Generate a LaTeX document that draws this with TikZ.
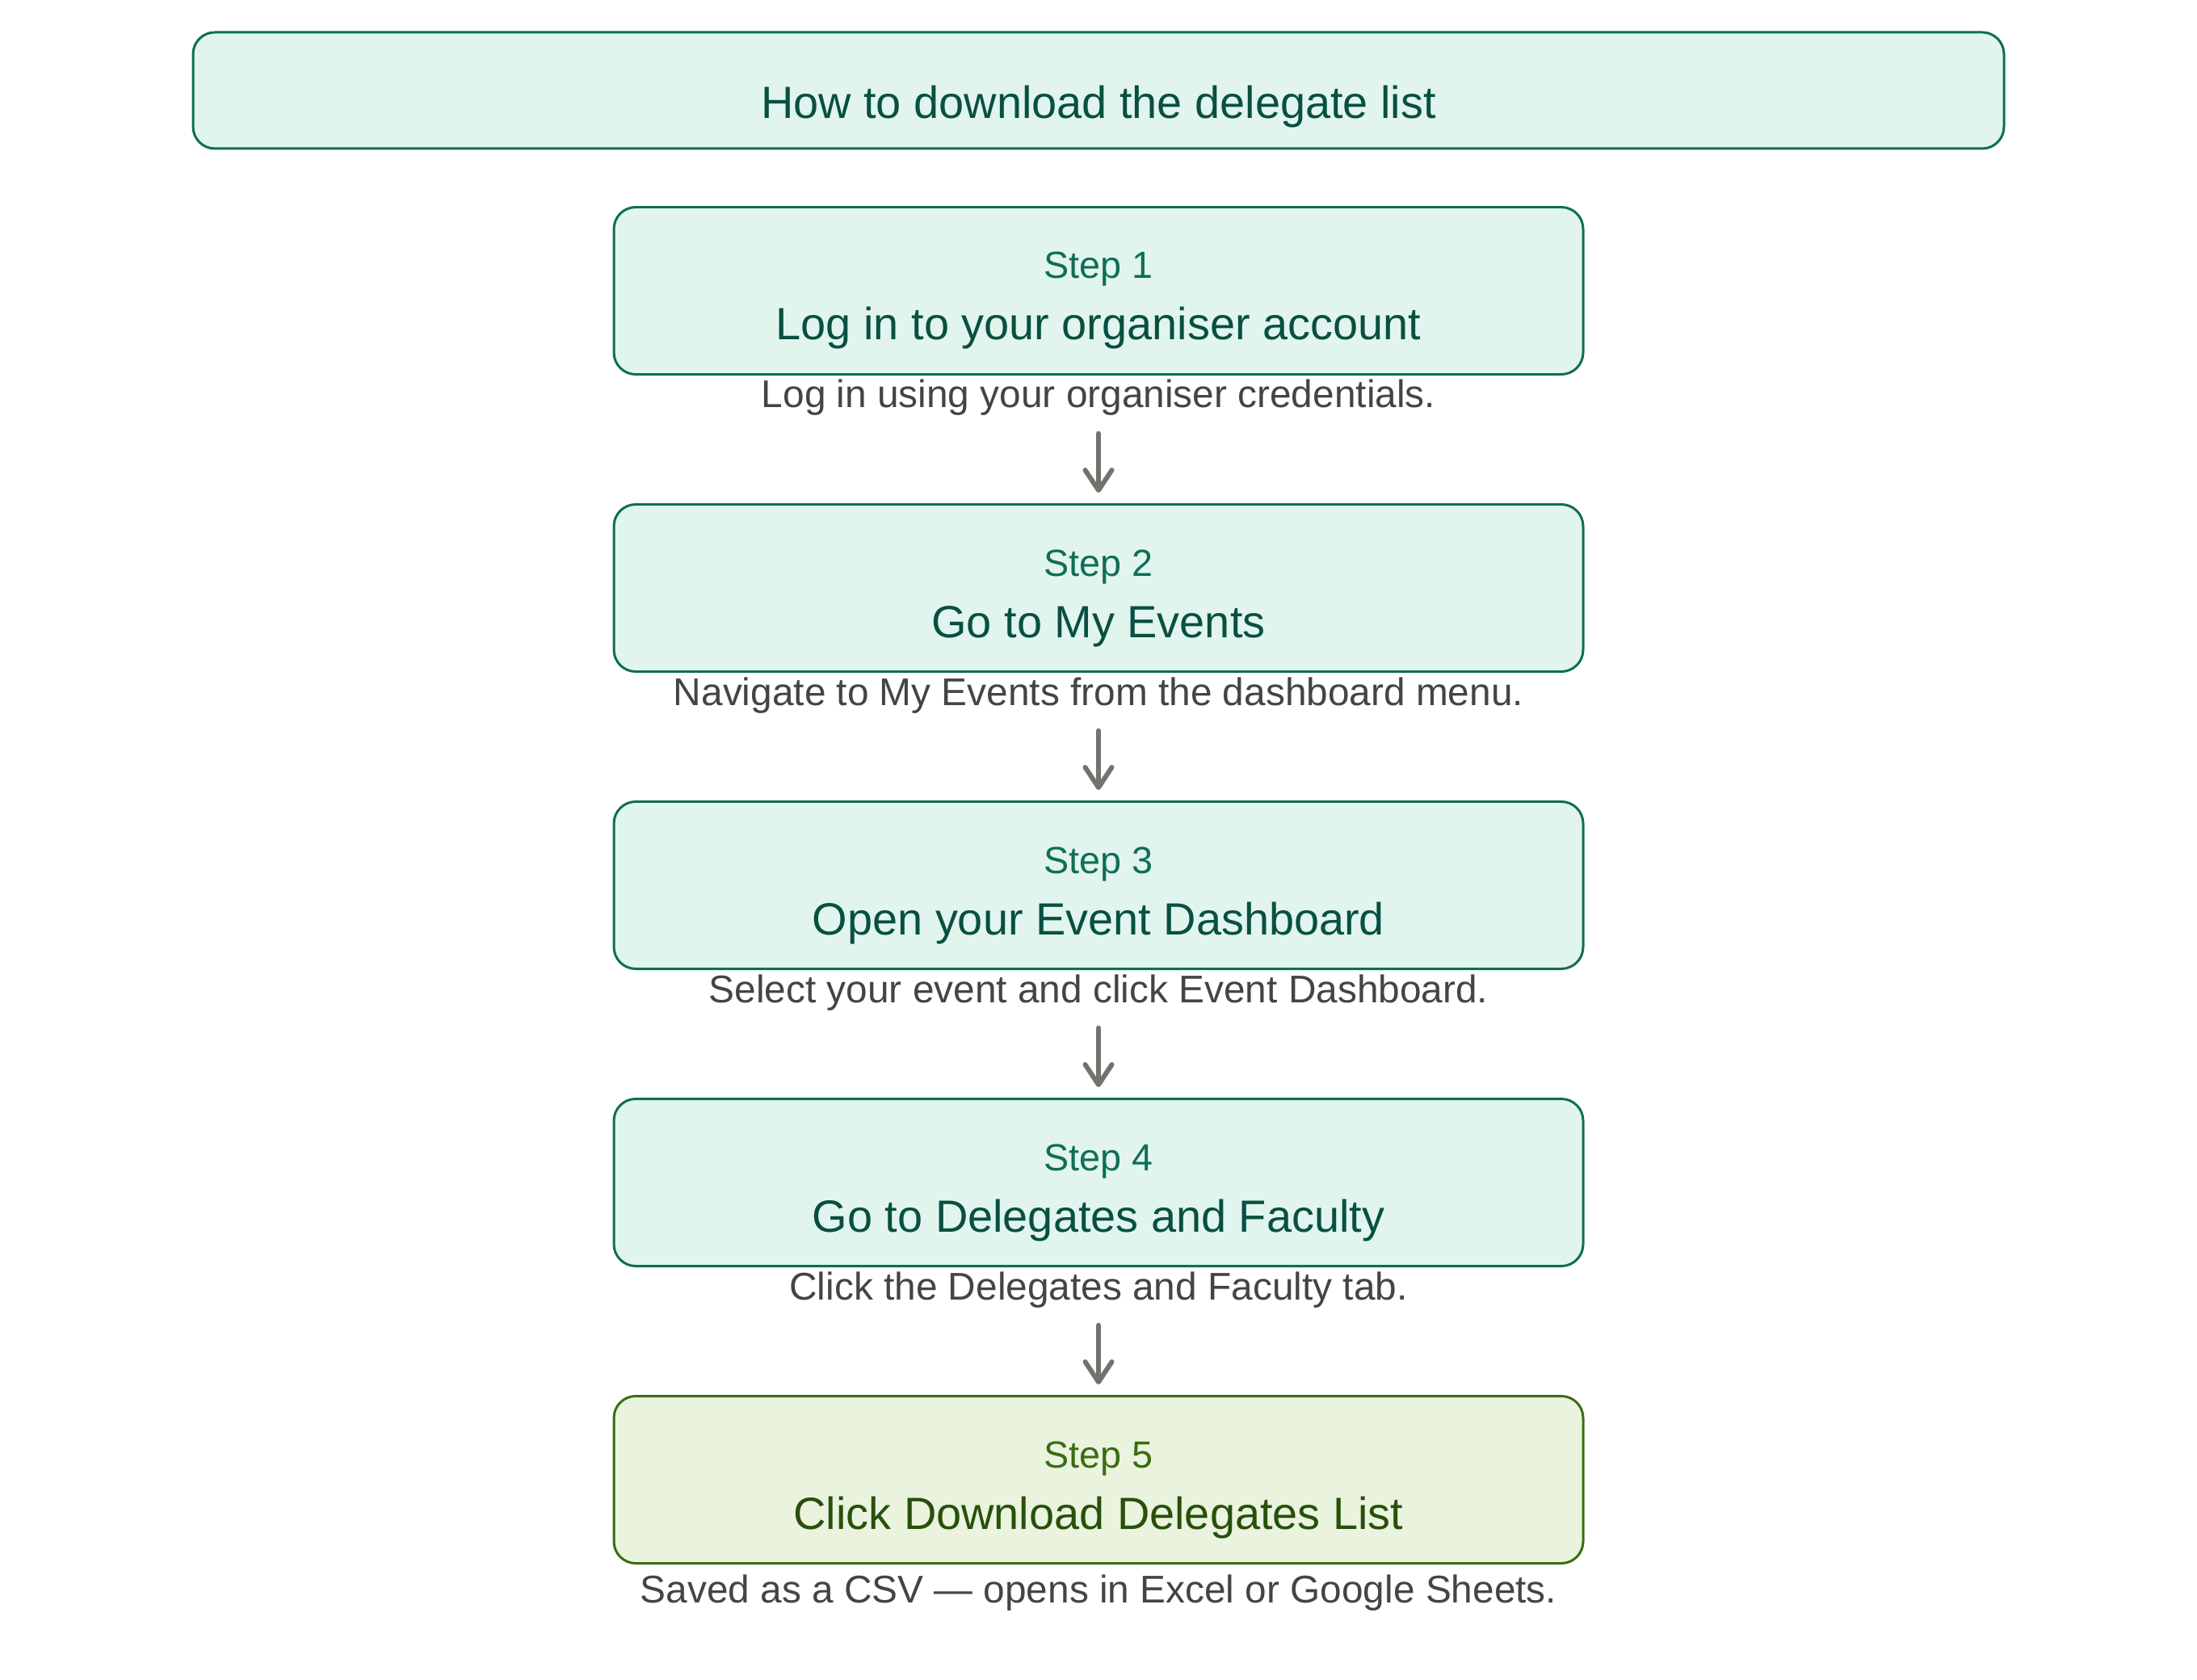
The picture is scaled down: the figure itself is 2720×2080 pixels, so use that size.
\documentclass[tikz,border=0pt]{standalone}
\usepackage{fontspec}
\setmainfont{Liberation Sans}
\usetikzlibrary{arrows.meta}
\definecolor{tealfill}{HTML}{E1F5EE}
\definecolor{tealline}{HTML}{0F6E56}
\definecolor{tealdark}{HTML}{085041}
\definecolor{greenfill}{HTML}{EAF3DE}
\definecolor{greenline}{HTML}{3B6D11}
\definecolor{greendark}{HTML}{27500A}
\definecolor{desctext}{HTML}{444441}
\definecolor{arrowgray}{HTML}{73726C}

\begin{document}
\begin{tikzpicture}[x=0.1mm, y=-0.1mm,
    box-teal/.style={draw=tealline, fill=tealfill, line width=0.85pt,
        rounded corners=2.7mm, minimum width=120mm, minimum height=20.7mm},
    box-green/.style={box-teal, draw=greenline, fill=greenfill},
    lbl-teal/.style={text=tealline, font=\fontsize{13.3}{16}\selectfont,
        inner sep=0pt, anchor=base},
    lbl-green/.style={lbl-teal, text=greenline},
    head-teal/.style={text=tealdark, font=\fontsize{15.9}{19}\selectfont,
        inner sep=0pt, anchor=base},
    head-green/.style={head-teal, text=greendark},
    desc/.style={text=desctext, font=\fontsize{13.6}{16}\selectfont,
        inner sep=0pt, text depth=0pt, anchor=base},
    flow/.style={draw=arrowgray, line width=1.7pt, line cap=round,
        -{Straight Barb[length=2.5mm, width=3.3mm, line cap=round, line join=round]},
        shorten <=3.1mm, shorten >=1.3mm}]
    \useasboundingbox (0,0) rectangle (2720,2080);
    % title banner
    \node[draw=tealline, fill=tealfill, line width=0.85pt, rounded corners=2.7mm,
        minimum width=224.2mm, minimum height=14.4mm, text=tealdark,
        font=\fontsize{15.9}{19}\selectfont, text height=7mm, text depth=0pt]
        (title) at (1360,112) {How to download the delegate list};
    % the five steps
    \foreach[count=\i] \sty/\gap/\head/\desc in {
        teal/0/{Log in to your organiser account}/{Log in using your organiser credentials.},
        teal/0/{Go to My Events}/{Navigate to My Events from the dashboard menu.},
        teal/0/{Open your Event Dashboard}/{Select your event and click Event Dashboard.},
        teal/0/{Go to Delegates and Faculty}/{Click the Delegates and Faculty tab.},
        green/7/{Click Download Delegates List}/{Saved as a CSV — opens in Excel or Google Sheets.}} {
        \pgfmathsetmacro{\dy}{368*(\i-1)}
        \node[box-\sty] (s-\i) at (1360,360+\dy) {};
        \node[lbl-\sty] (l-\i) at (1360,345+\dy) {Step \i};
        \node[head-\sty] (h-\i) at (1360,421+\dy) {\head};
        \node[desc] (d-\i) at (1360,505+\dy+\gap) {\desc};
    }
    \foreach \i/\j in {1/2,2/3,3/4,4/5}
        \draw[flow] (d-\i.south) -- (s-\j.north);
\end{tikzpicture}
\end{document}
